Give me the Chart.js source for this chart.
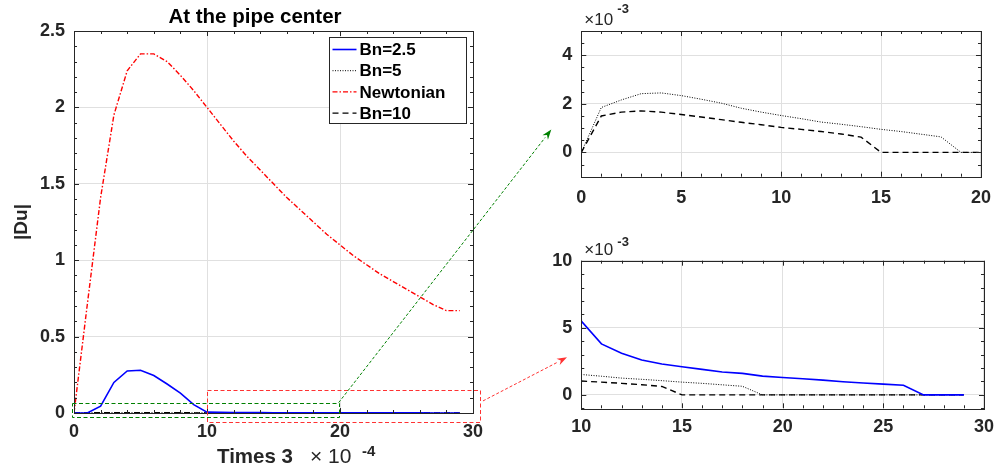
<!DOCTYPE html>
<html>
<head>
<meta charset="utf-8">
<script src="https://cdn.jsdelivr.net/npm/chart.js@4.4.1/dist/chart.umd.min.js"></script>
<style>
  html, body { margin: 0; padding: 0; background: #fff; }
  #wrap { position: relative; width: 1002px; height: 471px; overflow: hidden; }
  #wrap canvas { position: absolute; }
</style>
</head>
<body>
<div id="wrap">
  <canvas id="mainChart" width="510" height="471" style="left:0;top:0"></canvas>
  <canvas id="topInset" width="462" height="220" style="left:540px;top:0"></canvas>
  <canvas id="bottomInset" width="462" height="251" style="left:540px;top:220px"></canvas>
  <canvas id="overlay" width="1002" height="471" style="left:0;top:0;pointer-events:none"></canvas>
</div>
<script>
// time steps (x axis, units of 3e-4)
const times = [0, 1, 2, 3, 4, 5, 6, 7, 8, 9, 10, 11, 12, 13, 14, 15, 16, 17, 18, 19,
               20, 21, 22, 23, 24, 25, 26, 27, 28, 29];

// |Du| at the pipe center
const bn25 = [0, 0, 0.045, 0.2, 0.275, 0.28, 0.245, 0.19, 0.13, 0.055,
              0.0055, 0.0038, 0.0031, 0.0026, 0.0023, 0.0021, 0.0019, 0.0017, 0.0016, 0.0014,
              0.0013, 0.0012, 0.0011, 0.00098, 0.00088, 0.0008, 0.00072, 0, 0, 0];
const bn5 = [0, 0.00185, 0.00216, 0.00242, 0.00245, 0.00234, 0.00219, 0.00203, 0.00182, 0.00166,
             0.00152, 0.00139, 0.00125, 0.00116, 0.00106, 0.00095, 0.00086, 0.00075, 0.00064, 0,
             0, 0, 0, 0, 0, 0, 0, 0, 0, 0];
const newtonian = [0, 0.71, 1.41, 1.95, 2.24, 2.35, 2.35, 2.30, 2.21, 2.11,
                   2.0, 1.89, 1.78, 1.68, 1.59, 1.50, 1.41, 1.33, 1.25, 1.17,
                   1.10, 1.03, 0.97, 0.91, 0.86, 0.81, 0.76, 0.71, 0.67, 0.67];
const bn10 = [0, 0.0015, 0.00166, 0.00171, 0.00166, 0.00156, 0.00146, 0.00135, 0.00124, 0.00114,
              0.00103, 0.00095, 0.00086, 0.00076, 0.00063, 0, 0, 0, 0, 0,
              0, 0, 0, 0, 0, 0, 0, 0, 0, 0];

const seriesNames = ['Bn=2.5', 'Bn=5', 'Newtonian', 'Bn=10'];

// tick values
const mainXTicks = [0, 10, 20, 30];
const mainYTicks = [0, 0.5, 1, 1.5, 2, 2.5];
const topXTicks = [0, 5, 10, 15, 20];
const topYTicks = [0, 0.002, 0.004];
const bottomXTicks = [10, 15, 20, 25, 30];
const bottomYTicks = [0, 0.005, 0.01];

const FONT = "'Liberation Sans', Arial, Helvetica, sans-serif";
const AXIS = '#262626';

const styles = {
    'Bn=2.5':    { color: '#0000ff', dash: [],             width: 1.6 },
    'Bn=5':      { color: '#000000', dash: [1, 1.5],       width: 1 },
    'Newtonian': { color: '#ff0000', dash: [5, 2, 1.5, 2], width: 1.4 },
    'Bn=10':     { color: '#000000', dash: [6, 4],         width: 1.4 }
};

const valuesByName = { 'Bn=2.5': bn25, 'Bn=5': bn5, 'Newtonian': newtonian, 'Bn=10': bn10 };

function makeDataset(name) {
    const st = styles[name];
    return {
        label: name,
        data: times.map((t, i) => ({ x: t, y: valuesByName[name][i] })),
        borderColor: st.color,
        borderDash: st.dash,
        borderWidth: st.width,
        pointRadius: 0,
        tension: 0,
        fill: false
    };
}

// box + inward major/minor ticks on all four sides (MATLAB look), plus free texts
const framePlugin = {
    id: 'frame',
    afterDatasetsDraw(chart, args, opts) {
        const { ctx, chartArea: a, scales } = chart;
        ctx.save();
        ctx.strokeStyle = AXIS;
        ctx.lineWidth = 1;
        ctx.setLineDash([]);
        const ticks = (scale, minor, major, horiz) => {
            const n = Math.round((scale.max - scale.min) / minor);
            for (let i = 0; i <= n; i++) {
                const v = scale.min + i * minor;
                const r = v / major;
                const len = Math.abs(r - Math.round(r)) < 1e-6 ? 5 : 3;
                const p = Math.round(scale.getPixelForValue(v)) + 0.5;
                ctx.beginPath();
                if (horiz) {
                    ctx.moveTo(p, a.bottom); ctx.lineTo(p, a.bottom - len);
                    ctx.moveTo(p, a.top); ctx.lineTo(p, a.top + len);
                } else {
                    ctx.moveTo(a.left, p); ctx.lineTo(a.left + len, p);
                    ctx.moveTo(a.right, p); ctx.lineTo(a.right - len, p);
                }
                ctx.stroke();
            }
        };
        ticks(scales.x, opts.xMinor, opts.xMajor, true);
        ticks(scales.y, opts.yMinor, opts.yMajor, false);
        ctx.strokeRect(Math.round(a.left) + 0.5, Math.round(a.top) + 0.5,
                       Math.round(a.right - a.left), Math.round(a.bottom - a.top));

        // exponent label like "×10^-3"
        if (opts.exp) {
            const e = opts.exp;
            ctx.fillStyle = AXIS;
            ctx.textAlign = 'left';
            ctx.textBaseline = 'alphabetic';
            ctx.font = e.size + 'px ' + FONT;
            ctx.fillText(e.base, a.left + e.dx, a.top + e.dy);
            ctx.font = 'bold ' + e.supSize + 'px ' + FONT;
            ctx.fillText(e.sup, a.left + e.supDx, a.top + e.dy - e.rise);
        }
        // titles placed on the canvas
        (opts.texts || []).forEach(t => {
            ctx.fillStyle = t.color || AXIS;
            ctx.textAlign = 'center';
            ctx.textBaseline = 'alphabetic';
            ctx.font = 'bold ' + t.size + 'px ' + FONT;
            ctx.fillText(t.text, t.x, t.y);
        });
        ctx.restore();
    }
};

// legend box drawn inside the main axes
const boxLegendPlugin = {
    id: 'boxLegend',
    afterDraw(chart, args, opts) {
        if (!opts.show) return;
        const { ctx, chartArea: a } = chart;
        const w = 137, h = 86;
        const x0 = Math.round(a.right - 7 - w) + 0.5, y0 = Math.round(a.top + 6) + 0.5;
        ctx.save();
        ctx.fillStyle = '#fff';
        ctx.fillRect(x0, y0, w, h);
        ctx.strokeStyle = AXIS;
        ctx.lineWidth = 1;
        ctx.strokeRect(x0, y0, w, h);
        ctx.font = 'bold 17px ' + FONT;
        ctx.textBaseline = 'middle';
        chart.data.datasets.forEach((ds, i) => {
            const y = y0 + 12 + i * 21.2;
            ctx.strokeStyle = ds.borderColor;
            ctx.lineWidth = ds.borderWidth;
            ctx.setLineDash(ds.borderDash);
            ctx.beginPath();
            ctx.moveTo(x0 + 3, y);
            ctx.lineTo(x0 + 27, y);
            ctx.stroke();
            ctx.setLineDash([]);
            ctx.fillStyle = '#000';
            ctx.fillText(ds.label, x0 + 30, y + 1);
        });
        ctx.restore();
    }
};

function axisOptions(cfg) {
    return {
        x: {
            type: 'linear', min: cfg.xMin, max: cfg.xMax,
            afterFit: s => { s.height = cfg.xHeight; },
            afterBuildTicks: s => { s.ticks = cfg.xTicks.map(v => ({ value: v })); },
            grid: { color: '#e0e0e0', drawTicks: false },
            border: { display: false },
            ticks: {
                padding: cfg.xPad, color: AXIS,
                font: { family: FONT, size: cfg.tickSize, weight: 'bold' },
                maxRotation: 0, autoSkip: false,
                callback: cfg.xFormat
            }
        },
        y: {
            type: 'linear', min: cfg.yMin, max: cfg.yMax,
            afterFit: s => { s.width = cfg.yWidth; },
            afterBuildTicks: s => { s.ticks = cfg.yTicks.map(v => ({ value: v })); },
            grid: { color: '#e0e0e0', drawTicks: false },
            border: { display: false },
            title: cfg.yTitle || { display: false },
            ticks: {
                padding: 9, color: AXIS,
                font: { family: FONT, size: cfg.tickSize, weight: 'bold' },
                autoSkip: false,
                callback: cfg.yFormat
            }
        }
    };
}

const plain = v => String(v);
const thousandths = v => String(Math.round(v * 1000));

const mainChart = new Chart(document.getElementById('mainChart'), {
    type: 'line',
    data: { datasets: seriesNames.map(makeDataset) },
    options: {
        responsive: false, animation: false, devicePixelRatio: 1,
        layout: { padding: { left: 0, right: 37, top: 31, bottom: 0 } },
        scales: axisOptions({
            xMin: 0, xMax: 30, xTicks: mainXTicks, xHeight: 58, xPad: 8,
            yMin: 0, yMax: 2.5, yTicks: mainYTicks, yWidth: 74, tickSize: 18,
            xFormat: plain, yFormat: plain,
            yTitle: { display: true, text: '|Du|', color: AXIS,
                      font: { family: FONT, size: 19, weight: 'bold' },
                      padding: { top: 10, bottom: 0 } }
        }),
        plugins: {
            legend: { display: false },
            tooltip: { enabled: false },
            frame: { xMinor: 2, xMajor: 10, yMinor: 0.1, yMajor: 0.5,
                     exp: { base: '\u00d7 10', sup: '-4', size: 21, supSize: 15,
                            dx: 236, supDx: 288, dy: 432, rise: 7 },
                     texts: [
                         { text: 'At the pipe center', x: 255, y: 23, size: 20.5, color: '#000' },
                         { text: 'Times 3', x: 255, y: 463, size: 20.5 }
                     ] },
            boxLegend: { show: true }
        }
    },
    plugins: [framePlugin, boxLegendPlugin]
});

const topInset = new Chart(document.getElementById('topInset'), {
    type: 'line',
    data: { datasets: ['Bn=5', 'Bn=10'].map(makeDataset) },
    options: {
        responsive: false, animation: false, devicePixelRatio: 1,
        layout: { padding: { left: 0, right: 12, top: 31, bottom: 0 } },
        scales: axisOptions({
            xMin: 0, xMax: 20, xTicks: topXTicks, xHeight: 43.3, xPad: 11,
            yMin: -0.001, yMax: 0.005, yTicks: topYTicks, yWidth: 41.3, tickSize: 18,
            xFormat: plain, yFormat: thousandths
        }),
        plugins: {
            legend: { display: false },
            tooltip: { enabled: false },
            frame: { xMinor: 1, xMajor: 5, yMinor: 0.0005, yMajor: 0.002,
                     exp: { base: '\u00d710', sup: '-3', size: 17, supSize: 13,
                            dx: 3, supDx: 36, dy: -6, rise: 12 } },
            boxLegend: { show: false }
        }
    },
    plugins: [framePlugin, boxLegendPlugin]
});

const bottomInset = new Chart(document.getElementById('bottomInset'), {
    type: 'line',
    data: { datasets: ['Bn=2.5', 'Bn=5', 'Bn=10'].map(makeDataset) },
    options: {
        responsive: false, animation: false, devicePixelRatio: 1,
        layout: { padding: { left: 0, right: 12, top: 40.7, bottom: 0 } },
        scales: axisOptions({
            xMin: 10, xMax: 30, xTicks: bottomXTicks, xHeight: 62.7, xPad: 8,
            yMin: -0.001, yMax: 0.01, yTicks: bottomYTicks, yWidth: 41.3, tickSize: 18,
            xFormat: plain, yFormat: thousandths
        }),
        plugins: {
            legend: { display: false },
            tooltip: { enabled: false },
            frame: { xMinor: 1, xMajor: 5, yMinor: 0.001, yMajor: 0.005,
                     exp: { base: '\u00d710', sup: '-3', size: 17, supSize: 13,
                            dx: 3, supDx: 36, dy: -6, rise: 9 } },
            boxLegend: { show: false }
        }
    },
    plugins: [framePlugin, boxLegendPlugin]
});

// zoom rectangles and arrows, placed through the charts' scales
function toPage(chart, x, y) {
    const r = chart.canvas.getBoundingClientRect();
    const w = document.getElementById('wrap').getBoundingClientRect();
    return [r.left - w.left + chart.scales.x.getPixelForValue(x),
            r.top - w.top + chart.scales.y.getPixelForValue(y)];
}

function drawOverlay() {
    const ctx = document.getElementById('overlay').getContext('2d');
    const green = 'rgb(0,128,0)', red = 'rgb(255,50,50)';

    const rect = (x1, x2, y1, y2, color) => {
        const [ax, ay] = toPage(mainChart, x1, y2);
        const [bx, by] = toPage(mainChart, x2, y1);
        ctx.strokeStyle = color;
        ctx.lineWidth = 1;
        ctx.setLineDash([4, 2.5]);
        ctx.strokeRect(Math.round(ax) + 0.5, Math.round(ay) + 0.5, Math.round(bx - ax), Math.round(by - ay));
    };

    const arrow = (p, q, color) => {
        ctx.strokeStyle = color;
        ctx.fillStyle = color;
        ctx.lineWidth = 1;
        ctx.setLineDash([3, 2]);
        const ang = Math.atan2(q[1] - p[1], q[0] - p[0]);
        const L = 10, W = 3.5;
        const bx = q[0] - L * Math.cos(ang), by = q[1] - L * Math.sin(ang);
        ctx.beginPath();
        ctx.moveTo(p[0], p[1]);
        ctx.lineTo(bx, by);
        ctx.stroke();
        ctx.setLineDash([]);
        const nx = -Math.sin(ang), ny = Math.cos(ang);
        const mx = q[0] - 0.7 * L * Math.cos(ang), my = q[1] - 0.7 * L * Math.sin(ang);
        ctx.beginPath();
        ctx.moveTo(q[0], q[1]);
        ctx.lineTo(bx + nx * W, by + ny * W);
        ctx.lineTo(mx, my);
        ctx.lineTo(bx - nx * W, by - ny * W);
        ctx.closePath();
        ctx.fill();
    };

    rect(-0.15, 19.9, -0.026, 0.068, green);
    rect(10, 30.5, -0.059, 0.151, red);
    arrow(toPage(mainChart, 19.9, 0.068), toPage(topInset, -1.5, 0.00094), green);
    arrow(toPage(mainChart, 30.75, 0.079), toPage(bottomInset, 9.29, 0.0028), red);
}

drawOverlay();
</script>
</body>
</html>
